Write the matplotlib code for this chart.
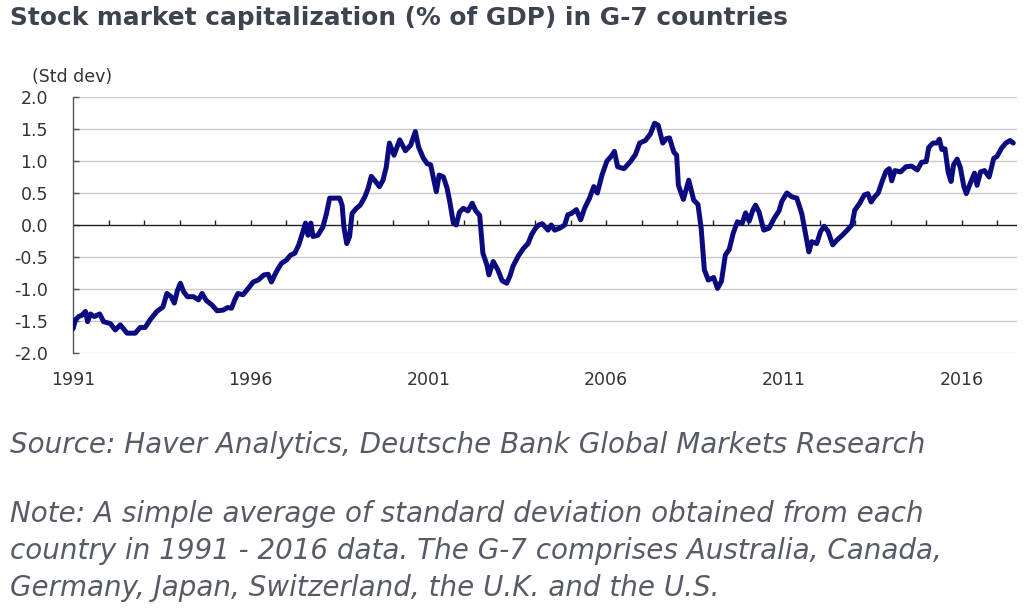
import matplotlib
matplotlib.use("Agg")
import matplotlib.pyplot as plt

# G-7 average stock market cap (% of GDP), in std dev units
years = [
    1991.00, 1991.07, 1991.16, 1991.25, 1991.35, 1991.41, 1991.49, 1991.60, 1991.75, 1991.86,
    1992.05, 1992.19, 1992.33, 1992.52, 1992.75, 1992.89, 1993.03, 1993.17, 1993.36, 1993.53,
    1993.64, 1993.76, 1993.85, 1993.94, 1994.02, 1994.11, 1994.22, 1994.39, 1994.53, 1994.63,
    1994.75, 1994.91, 1995.05, 1995.22, 1995.35, 1995.46, 1995.55, 1995.64, 1995.78, 1995.93,
    1996.07, 1996.21, 1996.37, 1996.49, 1996.58, 1996.72, 1996.86, 1997.00, 1997.12, 1997.24,
    1997.35, 1997.47, 1997.54, 1997.61, 1997.69, 1997.75, 1997.89, 1998.03, 1998.13, 1998.22,
    1998.36, 1998.50, 1998.57, 1998.62, 1998.70, 1998.78, 1998.85, 1998.97, 1999.08, 1999.21,
    1999.30, 1999.39, 1999.51, 1999.62, 1999.72, 1999.81, 1999.90, 2000.03, 2000.19, 2000.35,
    2000.50, 2000.63, 2000.72, 2000.85, 2000.96, 2001.06, 2001.15, 2001.22, 2001.30, 2001.42,
    2001.52, 2001.60, 2001.70, 2001.78, 2001.87, 2001.98, 2002.11, 2002.23, 2002.32, 2002.44,
    2002.53, 2002.64, 2002.70, 2002.82, 2002.95, 2003.07, 2003.20, 2003.29, 2003.38, 2003.53,
    2003.68, 2003.80, 2003.90, 2004.00, 2004.10, 2004.20, 2004.30, 2004.36, 2004.45, 2004.55,
    2004.69, 2004.83, 2004.92, 2005.02, 2005.16, 2005.28, 2005.39, 2005.53, 2005.65, 2005.75,
    2005.88, 2006.02, 2006.15, 2006.23, 2006.32, 2006.50, 2006.68, 2006.82, 2006.94, 2007.10,
    2007.24, 2007.36, 2007.46, 2007.59, 2007.69, 2007.78, 2007.90, 2007.98, 2008.03, 2008.17,
    2008.32, 2008.46, 2008.58, 2008.67, 2008.76, 2008.87, 2009.02, 2009.13, 2009.24, 2009.35,
    2009.46, 2009.57, 2009.69, 2009.82, 2009.92, 2010.02, 2010.13, 2010.20, 2010.30, 2010.43,
    2010.58, 2010.72, 2010.86, 2010.94, 2011.08, 2011.22, 2011.36, 2011.50, 2011.61, 2011.70,
    2011.78, 2011.92, 2012.03, 2012.13, 2012.24, 2012.37, 2012.50, 2012.64, 2012.78, 2012.91,
    2012.99, 2013.13, 2013.26, 2013.36, 2013.45, 2013.55, 2013.65, 2013.76, 2013.87, 2013.96,
    2014.03, 2014.12, 2014.28, 2014.43, 2014.59, 2014.75, 2014.87, 2015.00, 2015.07, 2015.19,
    2015.30, 2015.37, 2015.44, 2015.53, 2015.62, 2015.70, 2015.77, 2015.87, 2015.96, 2016.06,
    2016.13, 2016.24, 2016.36, 2016.43, 2016.53, 2016.64, 2016.77, 2016.90, 2016.99, 2017.12,
    2017.24, 2017.36, 2017.45,
]
std_dev = [
    -1.62, -1.48, -1.43, -1.41, -1.35, -1.51, -1.39, -1.43, -1.39, -1.51,
    -1.54, -1.64, -1.56, -1.69, -1.69, -1.60, -1.60, -1.48, -1.35, -1.28,
    -1.07, -1.12, -1.22, -1.02, -0.91, -1.04, -1.12, -1.12, -1.17, -1.07,
    -1.18, -1.25, -1.34, -1.33, -1.29, -1.30, -1.17, -1.07, -1.09, -0.99,
    -0.89, -0.86, -0.78, -0.77, -0.89, -0.73, -0.60, -0.55, -0.47, -0.44,
    -0.31, -0.10, 0.03, -0.16, 0.03, -0.18, -0.16, -0.03, 0.18, 0.42,
    0.42, 0.42, 0.31, -0.03, -0.29, -0.18, 0.18, 0.26, 0.31, 0.44,
    0.57, 0.76, 0.68, 0.60, 0.70, 0.90, 1.28, 1.09, 1.33, 1.16,
    1.25, 1.46, 1.22, 1.05, 0.96, 0.94, 0.70, 0.52, 0.78, 0.75,
    0.58, 0.36, 0.03, 0.00, 0.20, 0.26, 0.22, 0.34, 0.23, 0.15,
    -0.44, -0.62, -0.78, -0.57, -0.70, -0.87, -0.91, -0.80, -0.64, -0.48,
    -0.36, -0.29, -0.15, -0.06, 0.00, 0.02, -0.04, -0.08, 0.00, -0.08,
    -0.05, 0.00, 0.16, 0.18, 0.24, 0.08, 0.26, 0.42, 0.60, 0.50,
    0.78, 1.00, 1.08, 1.15, 0.91, 0.88, 0.99, 1.10, 1.28, 1.32,
    1.42, 1.59, 1.56, 1.28, 1.35, 1.36, 1.14, 1.09, 0.62, 0.40,
    0.70, 0.39, 0.32, -0.05, -0.70, -0.86, -0.82, -0.99, -0.88, -0.47,
    -0.38, -0.13, 0.05, 0.02, 0.19, 0.06, 0.24, 0.31, 0.20, -0.08,
    -0.05, 0.10, 0.22, 0.37, 0.50, 0.44, 0.42, 0.18, -0.15, -0.42,
    -0.26, -0.29, -0.10, -0.02, -0.10, -0.31, -0.23, -0.16, -0.08, 0.00,
    0.23, 0.34, 0.47, 0.49, 0.36, 0.44, 0.50, 0.68, 0.84, 0.88,
    0.69, 0.85, 0.83, 0.91, 0.92, 0.86, 0.98, 0.99, 1.21, 1.28,
    1.28, 1.34, 1.18, 1.19, 0.82, 0.68, 0.94, 1.03, 0.90, 0.60,
    0.49, 0.65, 0.81, 0.62, 0.83, 0.85, 0.75, 1.04, 1.07, 1.20,
    1.28, 1.32, 1.28,
]

label_years = [1991, 1996, 2001, 2006, 2011, 2016]
minor_years = list(range(1992, 2018))
y_ticks = [-2.0, -1.5, -1.0, -0.5, 0.0, 0.5, 1.0, 1.5, 2.0]

title = "Stock market capitalization (% of GDP) in G-7 countries"
source = "Source: Haver Analytics, Deutsche Bank Global Markets Research"
note = ("Note: A simple average of standard deviation obtained from each\n"
        "country in 1991 - 2016 data. The G-7 comprises Australia, Canada,\n"
        "Germany, Japan, Switzerland, the U.K. and the U.S.")

fig = plt.figure(figsize=(10.24, 6.15), dpi=100)
ax = fig.add_axes([0.0713, 0.426, 0.9217, 0.4163])

ax.set_xlim(1991, 2017.55)
ax.set_ylim(-2.0, 2.0)
ax.set_yticks(y_ticks)
ax.set_yticklabels([f"{v:.1f}" for v in y_ticks])
ax.set_xticks(label_years)
ax.set_xticklabels([str(y) for y in label_years])

# light grid, dark zero line with small year ticks pointing up
for v in y_ticks:
    if v != 0.0:
        ax.axhline(v, color="#c9c9c9", lw=1.0, zorder=1)
ax.axhline(0.0, color="#222222", lw=1.0, zorder=2)
ax.vlines(minor_years, 0.0, 0.08, color="#222222", lw=1.0, zorder=2)

ax.plot(years, std_dev, color="#0b0b7f", lw=3.6, solid_joinstyle="round",
        solid_capstyle="round", zorder=3)

for side in ["top", "right", "bottom"]:
    ax.spines[side].set_visible(False)
ax.spines["left"].set_color("#555555")
ax.spines["left"].set_linewidth(1.0)

ax.tick_params(axis="y", direction="in", length=4, width=1, color="#555555",
               pad=18, labelsize=12.5, labelcolor="#333333")
ax.tick_params(axis="x", length=0, pad=13, labelsize=12.5, labelcolor="#333333")

fig.text(0.070, 1 - 77 / 615, "(Std dev)", ha="center", va="center",
         fontsize=12.5, color="#333333")

fig.text(0.010, 1 - 18 / 615, title, ha="left", va="center",
         fontsize=17.8, fontweight="bold", color="#3d4450")

fig.text(0.010, 1 - 445 / 615, source, ha="left", va="center",
         fontsize=20, style="italic", color="#565b66")
fig.text(0.010, 1 - 551 / 615, note, ha="left", va="center",
         fontsize=20, style="italic", color="#565b66", linespacing=1.40)

fig.savefig("out.png", dpi=100)
